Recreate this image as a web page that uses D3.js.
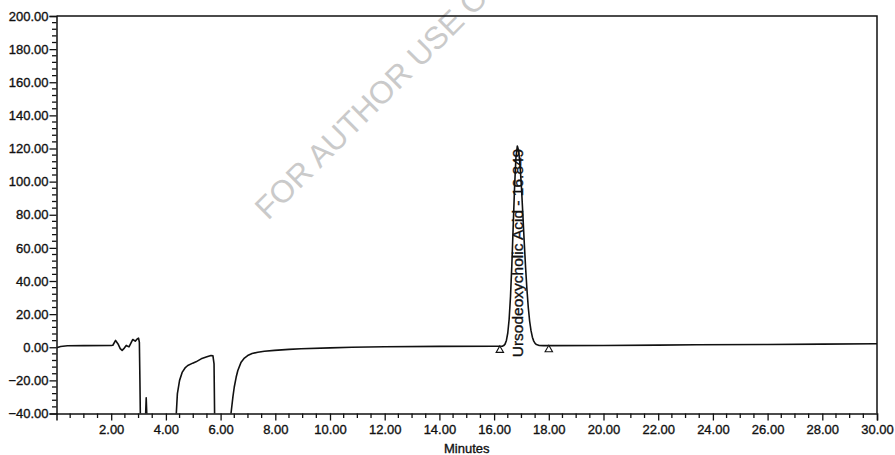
<!DOCTYPE html>
<html>
<head>
<meta charset="utf-8">
<script src="https://cdn.jsdelivr.net/npm/d3@7"></script>
<style>
  html, body { margin: 0; padding: 0; background: #fff; }
  svg { display: block; }
  text { font-family: "Liberation Sans", Arial, Helvetica, sans-serif; fill: #111; }
  .ink { stroke: #111; stroke-width: 0.35px; }
</style>
</head>
<body>
<svg id="chart" width="895" height="455"></svg>
<script>
// Detector trace (minutes, response units)
const time = [
  0.00, 0.15, 0.40, 1.00, 2.00, 2.06, 2.16, 2.25, 2.33, 2.40, 2.48, 2.55, 2.65, 2.72, 2.79, 2.88, 2.95, 3.00, 3.03, 3.05, 3.08,
  3.24, 3.26, 3.28, 3.30, 3.32,
  4.35, 4.38, 4.42, 4.50, 4.60, 4.70, 4.80, 4.98, 5.10, 5.29, 5.50, 5.65, 5.72, 5.76, 5.78, 5.80,
  6.35, 6.38, 6.45, 6.50, 6.57, 6.63, 6.75, 6.87, 6.99, 7.15, 7.36, 7.60, 7.97, 8.50, 8.94, 10.00, 10.80, 12.00, 14.00, 16.00,
  16.30, 16.35, 16.40, 16.45, 16.50, 16.55, 16.60, 16.65, 16.70, 16.75, 16.80, 16.849,
  16.90, 16.95, 17.00, 17.05, 17.10, 17.15, 17.20, 17.25, 17.30, 17.35, 17.40, 17.45, 17.50, 17.55, 17.65, 17.80,
  18.00, 20.00, 22.00, 23.40, 26.00, 28.00, 30.00
];
const signal = [
  -0.3, 0.5, 0.9, 1.0, 1.1, 1.2, 4.1, 2.0, -0.8, -1.9, -0.5, 1.1, 0.2, 2.5, 4.7, 3.7, 5.0, 5.5, 3.0, -20, -60,
  -60, -40, -30.5, -40, -60,
  -60, -40, -28, -20, -15, -12.5, -11, -9.6, -8.8, -7.0, -5.8, -5.0, -5.2, -10, -40, -60,
  -60, -40, -30, -24, -18, -14, -9.0, -6.5, -5.0, -3.8, -3.0, -2.4, -1.9, -1.3, -0.9, -0.4, 0.0, 0.3, 0.5, 0.6,
  0.6, 1.0, 1.9, 4.1, 8.6, 16.9, 30.7, 50.2, 73.9, 97.4, 115.0, 121.5,
  118.5, 109.5, 96.6, 80.6, 64.0, 48.5, 35.0, 24.0, 15.7, 10.0, 6.1, 3.7, 2.3, 1.6, 1.1, 1.0,
  1.0, 1.1, 1.3, 1.5, 1.7, 1.9, 2.1
];

// Integration markers and peak annotation
const peakName = "Ursodeoxycholic Acid";
const peakTime = 16.849;
const peakHeight = 121.5;
const markerTimes = [16.21, 18.00];
const markerValues = [0.6, 1.0];

// Axis ticks
const xMajorTicks = [2, 4, 6, 8, 10, 12, 14, 16, 18, 20, 22, 24, 26, 28, 30];
const yMajorTicks = [-40, -20, 0, 20, 40, 60, 80, 100, 120, 140, 160, 180, 200];
const xTitle = "Minutes";
const watermark = "FOR AUTHOR USE ONLY";

const svg = d3.select("#chart");
const plotLeft = 56.5, plotRight = 877, plotTop = 16, plotBottom = 413.5;

const x = d3.scaleLinear().domain([0, 30]).range([plotLeft, plotRight]);
const y = d3.scaleLinear().domain([-40, 200]).range([plotBottom, plotTop]);

// Watermark (runs off the top edge)
svg.append("text")
  .attr("transform", "translate(268,221) rotate(-45)")
  .attr("font-size", 31.5)
  .style("fill", "#cacaca")
  .text(watermark);

svg.append("clipPath").attr("id", "plot-clip")
  .append("rect").attr("x", plotLeft).attr("y", plotTop)
  .attr("width", plotRight - plotLeft).attr("height", plotBottom - plotTop);

// Frame: top and right borders
svg.append("path")
  .attr("d", `M${plotLeft},${plotTop}H${plotRight}V${plotBottom}`)
  .attr("fill", "none").attr("stroke", "#111").attr("stroke-width", 1.5);

// Y axis
const yMinor = d3.range(-40, 200.1, 4).filter(v => !yMajorTicks.includes(v));
const yAxis = d3.axisLeft(y).tickValues(yMajorTicks).tickFormat(d3.format(".2f")).tickSize(7).tickPadding(1);
const gy = svg.append("g").attr("transform", `translate(${plotLeft},0)`).call(yAxis);
gy.append("g").selectAll("line").data(yMinor).join("line")
  .attr("x1", -4.5).attr("x2", 0).attr("y1", d => y(d)).attr("y2", d => y(d))
  .attr("stroke", "#111").attr("stroke-width", 1.3);

// X axis
const xMinor = d3.range(0.5, 30, 0.5).filter(v => !xMajorTicks.includes(v));
const xAxis = d3.axisBottom(x).tickValues(xMajorTicks).tickFormat(d3.format(".2f")).tickSize(7).tickPadding(4);
const gx = svg.append("g").attr("transform", `translate(0,${plotBottom})`).call(xAxis);
gx.append("g").selectAll("line").data(xMinor).join("line")
  .attr("x1", d => x(d)).attr("x2", d => x(d)).attr("y1", 0).attr("y2", 4.5)
  .attr("stroke", "#111").attr("stroke-width", 1.3);

[gx, gy].forEach(g => {
  g.select(".domain").attr("stroke", "#111").attr("stroke-width", 1.5);
  g.selectAll(".tick line").attr("stroke", "#111").attr("stroke-width", 1.3);
  g.selectAll(".tick text").attr("class", "ink").attr("font-size", 13)
    .style("font-family", "'Liberation Sans', Arial, sans-serif").style("fill", "#111");
});

svg.append("text")
  .attr("class", "ink")
  .attr("x", (plotLeft + plotRight) / 2).attr("y", 453)
  .attr("text-anchor", "middle").attr("font-size", 13)
  .text(xTitle);

// Trace
const line = d3.line().x(d => x(d[0])).y(d => y(d[1]));
svg.append("path")
  .datum(time.map((t, i) => [t, signal[i]]))
  .attr("clip-path", "url(#plot-clip)")
  .attr("d", line)
  .attr("fill", "none").attr("stroke", "#111").attr("stroke-width", 1.6)
  .attr("stroke-linejoin", "round");

// Peak start / end markers
svg.append("g").selectAll("path").data(markerTimes).join("path")
  .attr("transform", (d, i) => `translate(${x(d)},${y(markerValues[i]) + 4})`)
  .attr("d", d3.symbol(d3.symbolTriangle, 24))
  .attr("fill", "#fff").attr("stroke", "#111").attr("stroke-width", 1.1);

// Peak label
svg.append("text")
  .attr("class", "ink")
  .attr("transform", `translate(${x(peakTime)},${y(0.6) + 11}) rotate(-90)`)
  .attr("dy", "0.36em")
  .attr("font-size", 15.5)
  .text(`${peakName} - ${peakTime.toFixed(3)}`);
</script>
</body>
</html>
